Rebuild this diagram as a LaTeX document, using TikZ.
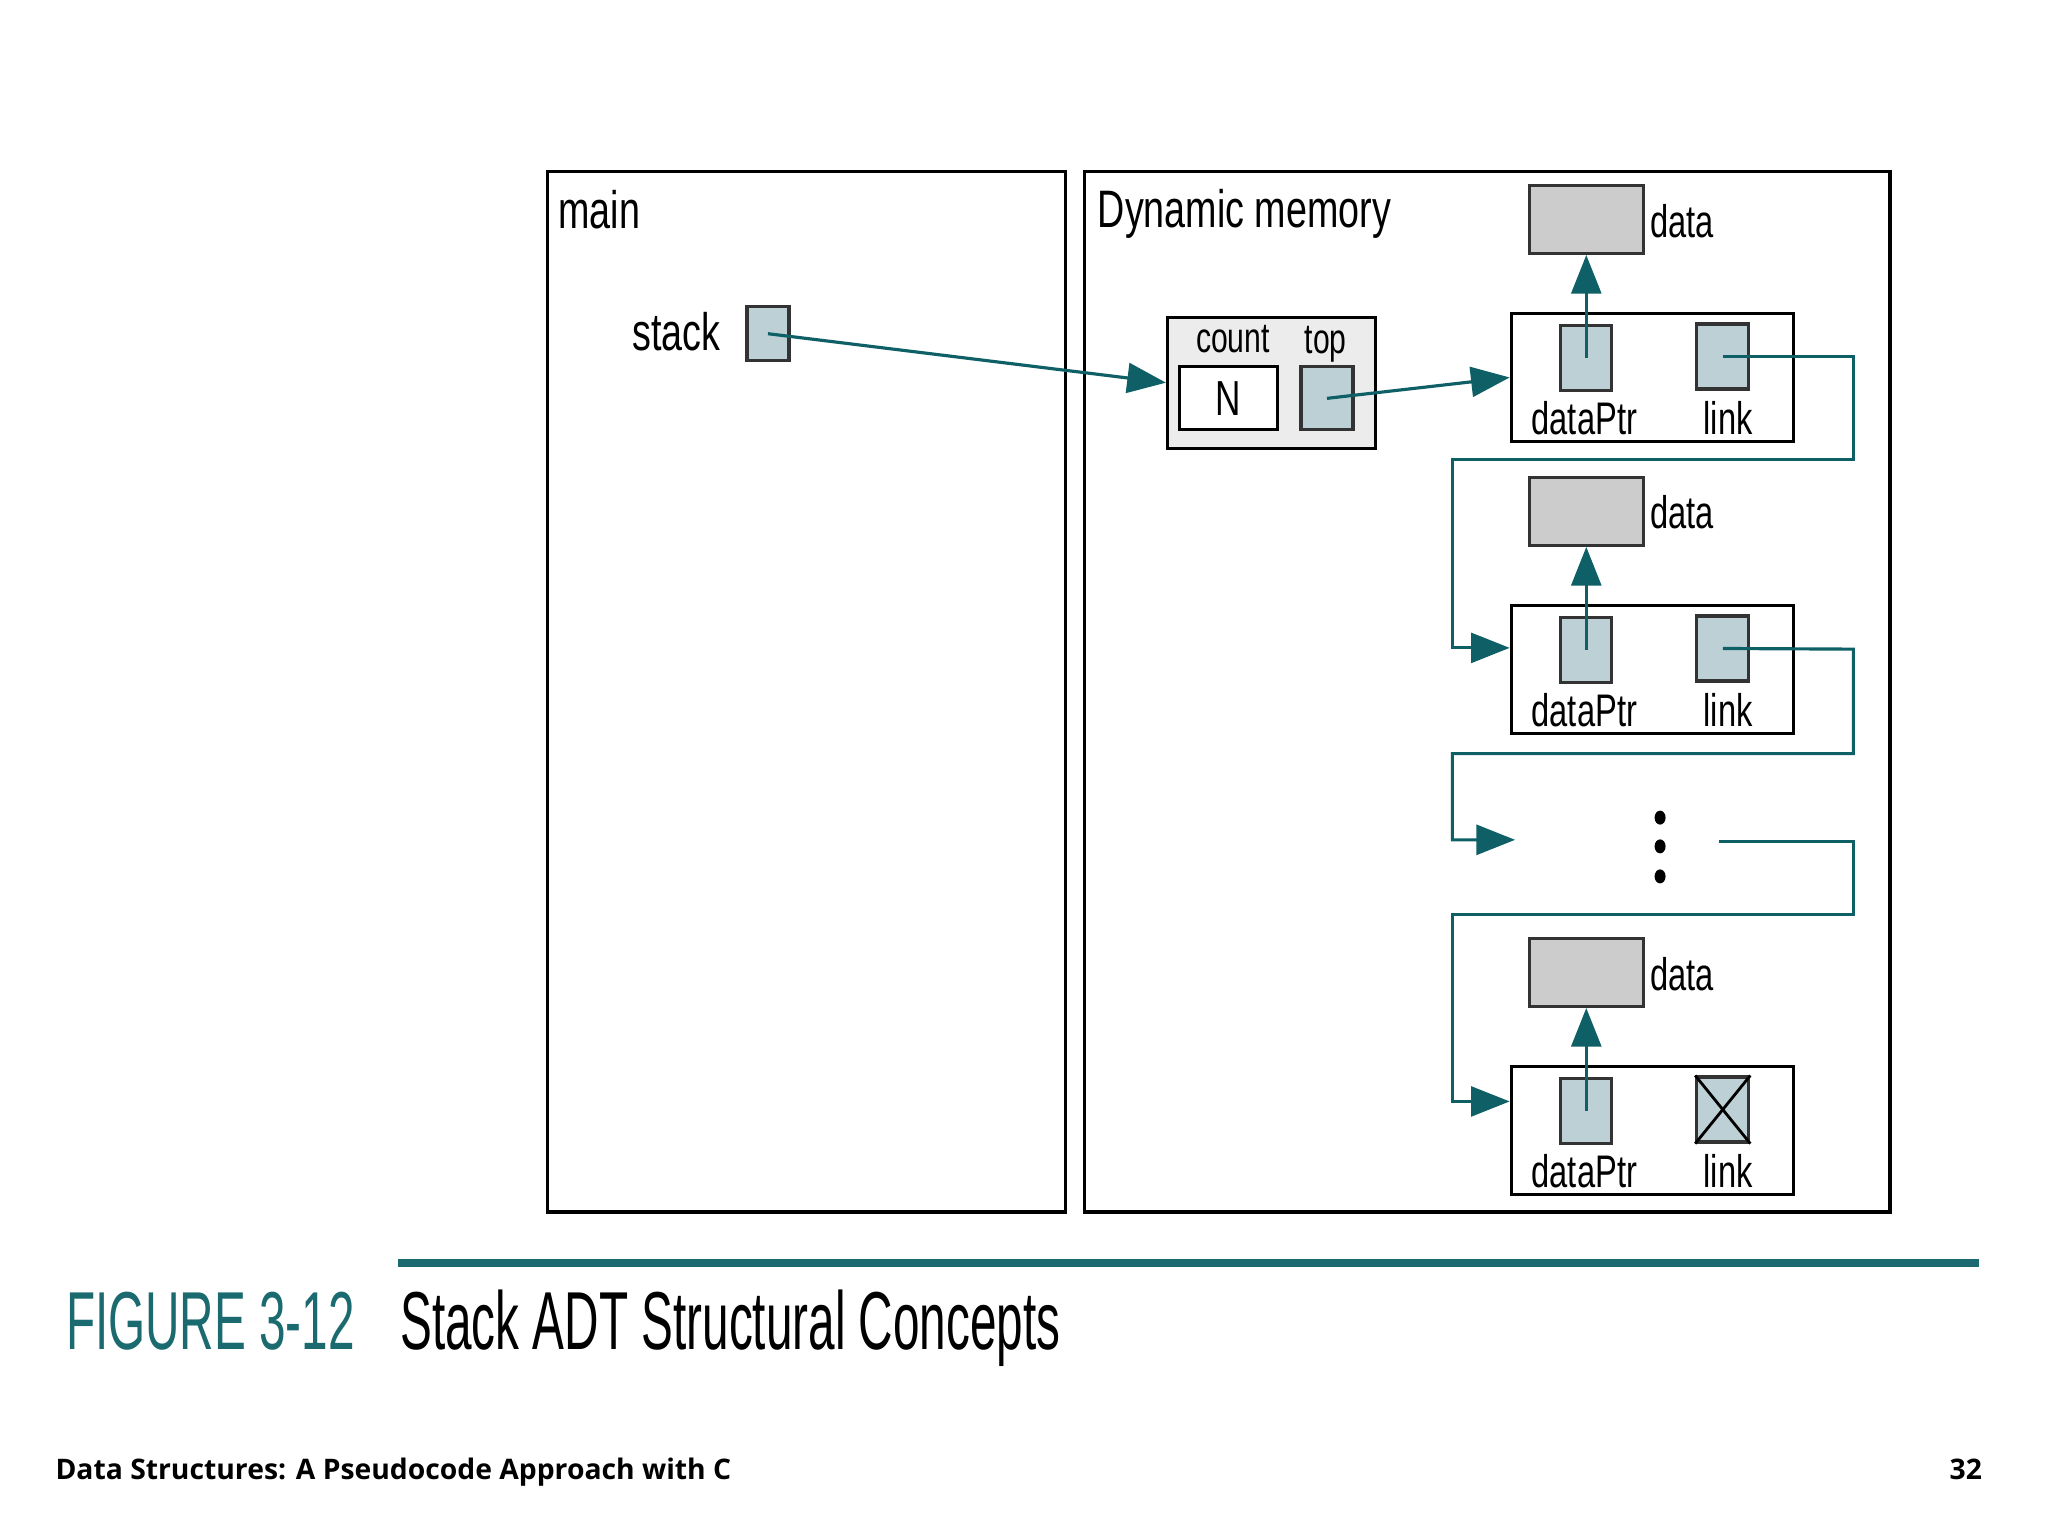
\documentclass[tikz,border=0pt]{standalone}
\usepackage{fontspec}
\setmainfont{Liberation Sans}
\newfontfamily\narrowfont[FakeStretch=0.715]{Liberation Sans}
\newfontfamily\capfont[FakeStretch=0.58]{Liberation Sans}
\newfontfamily\footfont{Open Sans}
\usepackage{tikz}
\usetikzlibrary{arrows.meta}
\definecolor{ptrteal}{HTML}{0E5F66}
\definecolor{cellblue}{HTML}{BDD0D5}
\definecolor{datagray}{HTML}{CCCCCC}
\definecolor{headgray}{HTML}{ECECEC}
\definecolor{figteal}{HTML}{1A6A70}
\tikzset{>={Triangle[length=11pt,width=8.5pt]}}
\tikzset{
  frame/.style={draw=black, line width=0.9pt},
  cell/.style={draw=black!80, line width=0.9pt, fill=cellblue, inner sep=0pt},
  databox/.style={draw=black!80, line width=0.9pt, fill=datagray, minimum width=1.14cm, minimum height=0.68cm, inner sep=0pt},
  nodebox/.style={draw=black, line width=0.9pt, fill=white, minimum width=2.82cm, minimum height=1.28cm, inner sep=0pt},
  ptr/.style={->, draw=ptrteal, line width=0.9pt},
  lbl/.style={font=\narrowfont\fontsize{13}{15}\selectfont, inner sep=0pt},
  biglbl/.style={font=\narrowfont\fontsize{15}{18}\selectfont, inner sep=0pt},
  capt/.style={font=\capfont\fontsize{23.4}{28}\selectfont, inner sep=0pt},
  foot/.style={font=\footfont\bfseries\fontsize{8.05}{10}\selectfont, inner sep=0pt}
}
\begin{document}
\begin{tikzpicture}[x=0.01306cm, y=-0.01306cm]
        \useasboundingbox (0,0) rectangle (1568,1176);

        % main
        \draw[frame] (419,131) rectangle (816,928);
        \node[biglbl, anchor=base west] (main) at (427,175) {main};
        \node[biglbl, anchor=base east] (stack) at (552,268) {stack};
        \node[cell, minimum width=0.42cm, minimum height=0.54cm] (sp) at (588,255.5) {};

        % Dynamic memory
        \draw[frame] (830,131) rectangle (1447,928);
        \node[biglbl, anchor=base west] (dyn) at (840,174) {Dynamic memory};

        % head
        \node[draw=black, line width=0.9pt, fill=headgray, minimum width=2.08cm, minimum height=1.31cm] (head) at (973.5,293) {};
        \node[lbl, font=\narrowfont\fontsize{12}{14}\selectfont, anchor=base] (count) at (944,270) {count};
        \node[lbl, font=\narrowfont\fontsize{12}{14}\selectfont, anchor=base] (toplbl) at (1015,271) {top};
        \node[lbl, font=\narrowfont\fontsize{14}{16}\selectfont, draw=black, line width=0.9pt, fill=white, minimum width=0.98cm, minimum height=0.63cm] (cnt) at (940.5,305) {N};
        \node[cell, minimum width=0.52cm, minimum height=0.63cm] (top) at (1016,305) {};

        % list nodes
        \foreach \i/\y in {1/289,2/512.5,3/865.5}{
            \node[nodebox] (n\i) at (1265,\y) {};
            \node[cell, minimum width=0.51cm, minimum height=0.65cm] (dp\i) at (1214.5,\y-15) {};
            \node[cell, minimum width=0.52cm, minimum height=0.65cm] (lk\i) at (1319,\y-16) {};
            \node[lbl, anchor=base] (dpl\i) at (1213,\y+44) {dataPtr};
            \node[lbl, anchor=base] (lkl\i) at (1323,\y+44) {link};
            \node[databox] (dat\i) at (1214.5,\y-121) {};
            \node[lbl, anchor=west] (datl\i) at (1263,\y-120) {data};
            \draw[ptr] (dp\i.center) -- (dat\i.south);
        }
        \draw[line width=0.8pt] (lk3.north west) -- (lk3.south east) (lk3.north east) -- (lk3.south west);

        \draw[ptr] (sp.center) -- (head.west);
        \draw[ptr] (top.center) -- (n1.west);

        % links
        \coordinate (gapin) at (1160,643);
        \coordinate (gapout) at (1316,644);
        \draw[ptr] (lk1.center) -- (1419,273) -- (1419,352) -- (1112,352) |- ([yshift=0.215cm]n2.west);
        \draw[ptr] (lk2.center) -- (1419,497) -- (1419,577) -- (1112,577) |- (gapin);
        \draw[ptr] (gapout) -- (1419,644) -- (1419,700) -- (1112,700) |- ([yshift=0.29cm]n3.west);
        \foreach \d in {626,648,671}
            \fill (1271,\d) ellipse [x radius=0.055cm, y radius=0.07cm];

        % caption
        \draw[figteal, line width=2.2pt] (305,967) -- (1515,967);
        \node[capt, anchor=base west, text=figteal] (fig) at (50,1033) {FIGURE 3-12};
        \node[capt, anchor=base west] (title) at (306,1033) {Stack ADT Structural Concepts};
        \node[foot, anchor=base west] (book) at (42,1133) {Data Structures: A Pseudocode Approach with C};
        \node[foot, anchor=base east] (page) at (1518,1133) {32};
    \end{tikzpicture}
\end{document}
